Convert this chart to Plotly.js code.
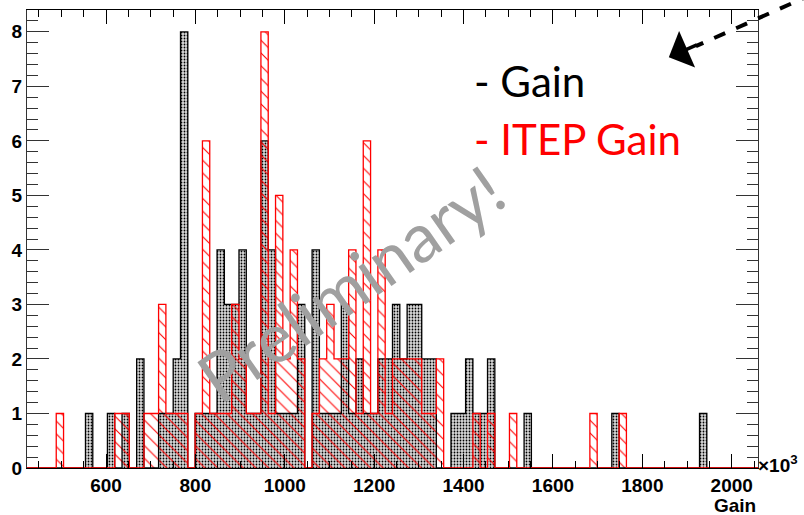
<!DOCTYPE html>
<html><head><meta charset="utf-8">
<script src="https://cdn.plot.ly/plotly-3.0.1.min.js"></script>
<style>html,body{margin:0;padding:0;background:#fff}#chart{width:804px;height:515px}</style>
</head><body><div id="chart"></div>
<script>
// Histogram binning (x in units of 10^3)
const xMin = 423.2, xMax = 2058.8, nBins = 100;

// "Gain" histogram (black, dotted fill) - counts per bin
const gainCounts = [
  0,0,0,0,0,0,0,0,1,0,
  0,1,0,1,0,2,0,0,1,1,
  2,8,0,1,1,1,4,3,3,4,
  1,1,6,4,1,1,1,3,0,4,
  1,1,1,3,1,2,1,1,2,2,
  3,2,3,3,2,2,0,0,1,1,
  2,1,1,2,0,0,0,0,1,0,
  0,0,0,0,0,0,0,0,0,0,
  1,0,0,0,0,0,0,0,0,0,
  0,0,1,0,0,0,0,0,0,0
];

// "ITEP Gain" histogram (red, hatched) - counts per bin
const itepCounts = [
  0,0,0,0,1,0,0,0,0,0,
  0,0,1,1,0,0,1,1,3,1,
  1,1,0,1,6,1,1,1,3,2,
  1,1,8,1,5,2,4,2,0,1,
  2,3,2,2,4,1,6,1,4,1,
  2,2,2,2,1,1,2,0,0,0,
  0,1,0,1,0,0,1,0,0,0,
  0,0,0,0,0,0,0,1,0,0,
  0,1,0,0,0,0,0,0,0,0,
  0,0,0,0,0,0,0,0,0,0
];

const xTickVals = [600, 800, 1000, 1200, 1400, 1600, 1800, 2000];

const binW = (xMax - xMin) / nBins;
const centers = gainCounts.map((_, i) => xMin + binW * (i + 0.5));

function outline(counts) {
  const xs = [xMin], ys = [0];
  counts.forEach((c, i) => {
    xs.push(xMin + binW * i, xMin + binW * (i + 1));
    ys.push(c, c);
  });
  xs.push(xMax); ys.push(0);
  return { xs, ys };
}
const gOut = outline(gainCounts);
const iOut = outline(itepCounts);

const traces = [
  { type: 'bar', x: centers, y: gainCounts, width: binW, hoverinfo: 'skip',
    marker: { color: '#d8d8d8', line: { width: 0 },
      pattern: { shape: '.', fgcolor: '#000', bgcolor: '#dadada', size: 3, solidity: 0.28 } } },
  { type: 'scatter', mode: 'lines', x: gOut.xs, y: gOut.ys, hoverinfo: 'skip',
    line: { color: '#000', width: 1.3 } },
  { type: 'bar', x: centers, y: itepCounts, width: binW, hoverinfo: 'skip',
    marker: { color: 'rgba(0,0,0,0)', line: { width: 0 },
      pattern: { shape: '\\', fgcolor: '#ff0000', bgcolor: 'rgba(0,0,0,0)', size: 9, solidity: 0.12 } } },
  { type: 'scatter', mode: 'lines', x: iOut.xs, y: iOut.ys, hoverinfo: 'skip',
    line: { color: '#ff0000', width: 1.3 } }
];

const tickFont = { family: 'Liberation Sans, Arial, sans-serif', size: 19, color: '#000', weight: 'bold' };

const layout = {
  width: 804, height: 515,
  margin: { l: 27, r: 46, t: 10, b: 47, pad: 0 },
  paper_bgcolor: '#fff', plot_bgcolor: '#fff',
  showlegend: false, barmode: 'overlay', bargap: 0,
  font: { family: 'Liberation Sans, Arial, sans-serif', size: 19, color: '#000' },
  xaxis: {
    range: [xMin, xMax], tickmode: 'array', tickvals: xTickVals, ticktext: xTickVals.map(String),
    ticks: 'inside', ticklen: 14, tickwidth: 1, tickcolor: '#000',
    showline: true, linecolor: '#000', linewidth: 1, mirror: 'allticks',
    showgrid: false, zeroline: false, tickfont: tickFont,
    minor: { dtick: 50, tick0: 0, ticks: 'inside', ticklen: 7, tickcolor: '#000', showgrid: false }
  },
  yaxis: {
    range: [0, 8.4], tick0: 0, dtick: 1,
    ticks: 'inside', ticklen: 22, tickwidth: 1, tickcolor: '#333',
    showline: true, linecolor: '#333', linewidth: 1, mirror: 'allticks',
    showgrid: false, zeroline: false, tickfont: tickFont,
    minor: { dtick: 0.2, tick0: 0, ticks: 'inside', ticklen: 11, tickcolor: '#333', showgrid: false }
  },
  shapes: [
    { type: 'line', xref: 'paper', yref: 'paper', x0: 1.075, y0: 1.035, x1: 0.915, y1: 0.921,
      line: { color: '#000', width: 4, dash: 'dash' } }
  ],
  annotations: [
    { xref: 'paper', yref: 'paper', x: 0.878, y: 0.897, ax: 32, ay: -14, text: ' ',
      showarrow: true, arrowhead: 1, arrowsize: 1.9, arrowwidth: 3.5, arrowcolor: '#000' },
    { xref: 'paper', yref: 'paper', x: 0.609, y: 0.845, xanchor: 'left', yanchor: 'middle',
      text: '- Gain', showarrow: false, font: { family: 'Lato, sans-serif', size: 42, color: '#000' } },
    { xref: 'paper', yref: 'paper', x: 0.609, y: 0.718, xanchor: 'left', yanchor: 'middle',
      text: '- ITEP Gain', showarrow: false, font: { family: 'Lato, sans-serif', size: 42, color: '#ff0000' } },
    { xref: 'paper', yref: 'paper', x: 0.442, y: 0.405, xanchor: 'center', yanchor: 'middle',
      text: 'Preliminary!', textangle: -35, showarrow: false,
      font: { family: 'Lato, sans-serif', size: 68, color: '#a0a0a0' } },
    { xref: 'paper', yref: 'paper', x: 0.9985, y: -0.02, xanchor: 'left', yanchor: 'bottom',
      text: '×10<sup>3</sup>', showarrow: false, borderpad: 0,
      font: { family: 'Liberation Sans, Arial, sans-serif', size: 19, color: '#000', weight: 'bold' } },
    { xref: 'paper', yref: 'paper', x: 1.0, y: -0.082, xanchor: 'right', yanchor: 'middle',
      text: 'Gain', showarrow: false, font: tickFont }
  ]
};

Plotly.newPlot('chart', traces, layout, { displayModeBar: false, staticPlot: true });
</script>
</body></html>
